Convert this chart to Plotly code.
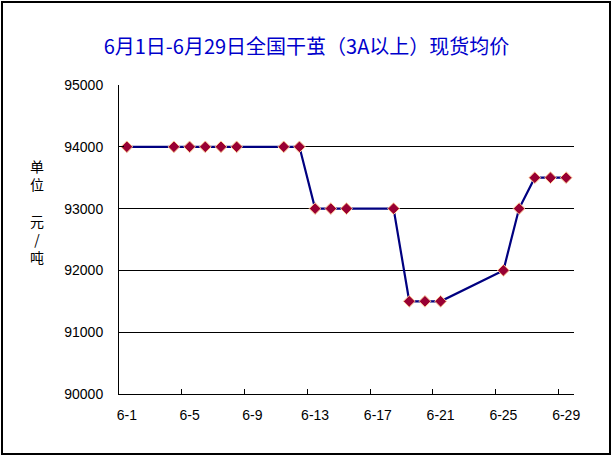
import plotly.graph_objects as go

# Data
days = [1, 4, 5, 6, 7, 8, 11, 12, 13, 14, 15, 18, 19, 20, 21, 25, 26, 27, 28, 29]
prices = [94000, 94000, 94000, 94000, 94000, 94000, 94000, 94000,
          93000, 93000, 93000, 93000,
          91500, 91500, 91500,
          92000, 93000, 93500, 93500, 93500]
label_days = [1, 5, 9, 13, 17, 21, 25, 29]
tick_labels = ["6-1", "6-5", "6-9", "6-13", "6-17", "6-21", "6-25", "6-29"]
tick_marks = [4.5, 8.5, 12.5, 16.5, 20.5, 24.5, 28.5]
y_ticks = [90000, 91000, 92000, 93000, 94000, 95000]

FONT = "Liberation Sans, Noto Sans CJK SC, sans-serif"

fig = go.Figure()
fig.add_trace(go.Scatter(
    x=days, y=prices, mode="lines+markers",
    line=dict(color="#000080", width=2.2),
    marker=dict(symbol="diamond", size=9, color="#990033",
                line=dict(color="#FFCC99", width=1)),
    showlegend=False, hoverinfo="x+y",
))
# invisible trace on overlay axis for the tick marks
fig.add_trace(go.Scatter(x=[0.5], y=[90000], xaxis="x2", mode="markers",
                         marker=dict(opacity=0), showlegend=False, hoverinfo="skip"))

fig.update_layout(
    width=613, height=459,
    margin=dict(l=119, r=39, t=85, b=65),
    paper_bgcolor="white", plot_bgcolor="white",
    font=dict(family=FONT, size=13, color="black"),
    title=dict(text="6月1日-6月29日全国干茧（3A以上）现货均价",
               x=0.5, xanchor="center", y=1 - 47 / 459, yanchor="middle",
               font=dict(family="Noto Sans CJK SC, sans-serif", size=20, color="#0000CC")),
    xaxis=dict(range=[0.5, 29.5], tickvals=label_days, ticktext=tick_labels,
               ticks="", showgrid=False, zeroline=False,
               showline=True, linecolor="black", linewidth=1,
               tickfont=dict(size=14), ticklabelstandoff=8),
    xaxis2=dict(range=[0.5, 29.5], overlaying="x", side="bottom",
                tickvals=tick_marks, ticktext=[""] * len(tick_marks),
                ticks="inside", ticklen=5, tickcolor="black", tickwidth=1,
                showgrid=False, zeroline=False, showline=False),
    yaxis=dict(range=[90000, 95000], tickvals=y_ticks,
               ticktext=[str(v) for v in y_ticks],
               ticks="inside", ticklen=5, tickcolor="black",
               showgrid=True, gridcolor="black", gridwidth=1,
               zeroline=False, showline=True, linecolor="black", linewidth=1,
               tickfont=dict(size=14), ticklabelstandoff=12),
)

fig.add_annotation(text="单<br>位<br><br>元<br>/<br>吨", xref="paper", yref="paper",
                   x=-0.20, y=0.5 + 0.09, showarrow=False,
                   font=dict(family="Noto Sans CJK SC, sans-serif", size=14, color="black"),
                   align="center")

# chart border
fig.add_shape(type="rect", xref="paper", yref="paper",
              x0=-117 / 455, x1=(610 - 119) / 455,
              y0=-(454 - 394) / 309, y1=1 + (85 - 2) / 309,
              line=dict(color="black", width=2), layer="below")

fig.write_html("out.html", config={"displayModeBar": False},
               post_script="document.body.style.margin='0';document.body.style.padding='0';")
